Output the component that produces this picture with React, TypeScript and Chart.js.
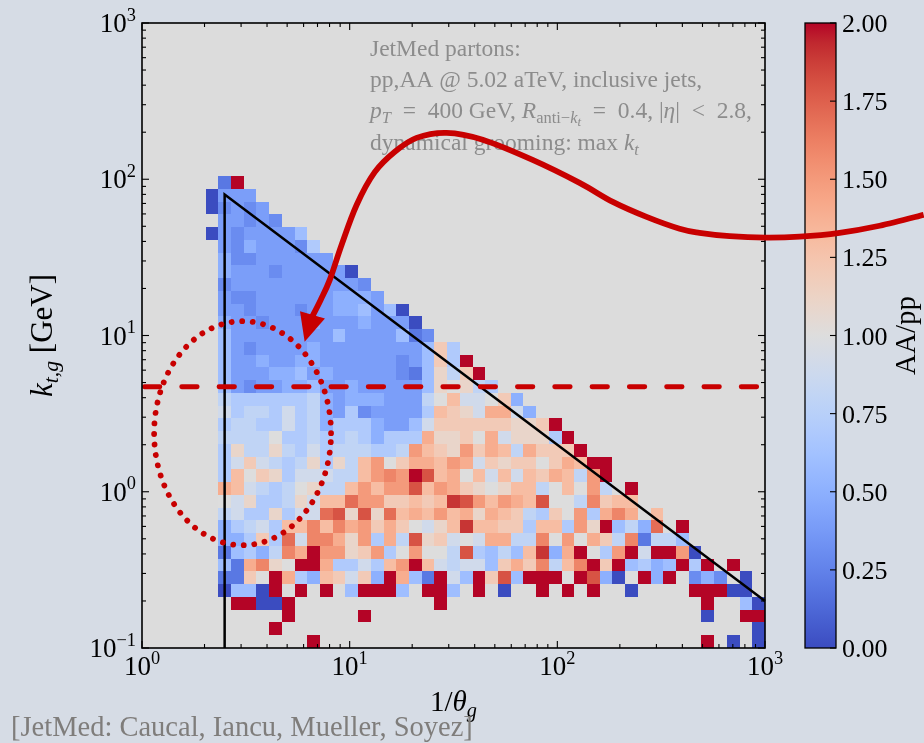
import React, { useEffect, useRef } from "react";
import { Chart, registerables } from "chart.js";

Chart.register(...registerables);

// ---------------- data ----------------
const X_RANGE = [1, 1000];
const Y_RANGE = [0.1, 1000];
const N_X_BINS = 49;
const N_Y_BINS = 49;
const FIRST_COL = 5;
const TOP_ROW = 36;
// AA/pp ratio codes: a = 0.0, b = 0.1, ... k = 1.0, ... u = 2.0 ; "." = empty bin
const RATIO_CODES = "abcdefghijklmnopqrstu";

// one string per kt row (top row first), one character per 1/theta column starting at FIRST_COL
const RATIO_ROWS = [
  ".cu",
  "aeee",
  "adede",
  ".eeded",
  "aedeeeeg",
  ".edfeeedh",
  ".fddeeeeee",
  ".feeedeeeeea",
  ".deeeeeeeeeed",
  ".eddeeeeeefffe",
  ".eedeeedeeffgega",
  ".feedeeefeeefeeea",
  ".geeeeeeeegeeeegcd",
  ".gedeeeef" + "eeeeeeee" + "gmh",
  ".geefeeff" + "eeeeee" + "de" + "gmhu",
  ".geeeffgef" + "eeeee" + "dc" + "glimu",
  ".gedeeffg" + "eef" + "eeeee" + "glklih",
  ".ihhhhhhifefffeeeiknjjkmf",
  ".jhiihjhifehd" + "eeee" + "hnmljoojf",
  ".hiihhjhif" + "hhhf" + "eeg" + "j" + "mmmmmm" + "llmu",
  ".iiiik" + "hhih" + "hih" + "f" + "hhh" + "ollmkojlllhu",
  ".hliili" + "hjh" + "iii" + "hh" + "i" + "pnmlpmon" + "iommmu",
  ".hjmjih" + "ilhlin" + "pkmoonpo" + "jmlmmkmon" + "uu",
  ".hnkmlh" + "jjjiin" + "pqpusnok" + "njnjnmoni" + "pu",
  ".onjihi" + "kliinp" + "nppsnpom" + "lklnnikn" + "kpi.u",
  ".kjlhhi" + "ljnnrp" + "pmmnmnts" + "pnponskk" + "iqmnn",
  ".ijhhlh" + "jjrsls" + "lrnonpno" + "lonmihmk" + "phoqo.n",
  ".fhijhn" + "nqnqop" + "momkjlnt" + "nnmmhnnh" + "plugifr.u",
  ".ffhmhr" + "jqqolp" + "hoislmjk" + "jooiiqkp" + "komiqciig",
  ".cghfiq" + "oupplm" + "phkpkkis" + "hgigntfo" + "ukhpujuupa",
  ".gcoqlk" + "uuohhj" + "hnpunjij" + "jgmomqin" + "qumughfguhu.u",
  ".ccmkuo" + "hfnmjm" + "fuogcujg" + "umsguuuk" + "usfakufu.dfd.a",
  ".aggau." + "u.u.gu" + "uug.uug." + "u.a..u.u" + ".u..a....uuuaa",
  "..uuaau" + "..........." + "u" + "...................." + "u..ga",
  "......u" + "....." + "u" + ".........." + ".........." + "......" + "a..uu",
  "....." + "u" + ".........." + ".........." + ".........." + "......." + "a",
  "........" + "u" + ".........." + ".........." + ".........." + "u.a.a",
];

const X_TICK_VALUES = [1, 10, 100, 1000];
const X_TICK_EXPONENTS = ["0", "1", "2", "3"];
const Y_TICK_VALUES = [0.1, 1, 10, 100, 1000];
const Y_TICK_EXPONENTS = ["\u22121", "0", "1", "2", "3"];
const CBAR_RANGE = [0, 2];
const CBAR_TICK_VALUES = [0, 0.25, 0.5, 0.75, 1, 1.25, 1.5, 1.75, 2];
const CBAR_TICK_LABELS = ["0.00", "0.25", "0.50", "0.75", "1.00", "1.25", "1.50", "1.75", "2.00"];

// jet boundary
const CUT_X = [2.5, 2.5, 1000];
const CUT_Y = [0.1, 80, 0.2];
const KT_CUT = 4.7;
// dotted region: centre (1/theta, kt) and half-axes in decades
const REGION_CENTER = [3.05, 2.37];
const REGION_HALF_DECADES = [0.426, 0.717];
// curved arrow path (1/theta, kt), continues outside the frame
const ARROW_X = [5808, 3565, 2286, 1469, 1007, 676, 484, 388, 269, 185, 128, 76.0, 43.7, 29.3, 21.0, 16.5, 13.2, 10.8, 9.14, 8.02, 7.25, 6.56];
const ARROW_Y = [59.2, 50.4, 45.4, 42.9, 42.3, 43.2, 45.4, 48.2, 57.4, 71.6, 94.8, 133, 179, 198, 184, 150, 111, 68.5, 38.0, 22.7, 16.9, 13.0];
const ARROW_TIP = [6.07, 9.12];

// ---------------- style ----------------
const FONT = '"Liberation Serif", "Times New Roman", serif';
const FIG_BG = "rgb(214,220,229)";
const AX_BG = "#dcdcdc";
const RED = "#c80000";
const ANNOT_GRAY = "#8c8c8c";
const FOOT_GRAY = "#7f7d7b";

const CW: number[][] = [
  [59, 76, 192], [68, 90, 204], [77, 104, 215], [87, 117, 225], [98, 130, 234], [108, 142, 241],
  [119, 154, 247], [130, 165, 251], [141, 176, 254], [152, 185, 255], [163, 194, 255], [174, 201, 253],
  [184, 208, 249], [194, 213, 244], [204, 217, 238], [213, 219, 230], [221, 221, 221], [229, 216, 209],
  [236, 211, 197], [241, 204, 185], [245, 196, 173], [247, 187, 160], [247, 177, 148], [247, 166, 135],
  [244, 154, 123], [241, 141, 111], [236, 127, 99], [229, 112, 88], [222, 96, 77], [213, 80, 66],
  [203, 62, 56], [192, 40, 47], [180, 4, 38],
];

function coolwarm(t: number): string {
  const tt = Math.max(0, Math.min(1, t));
  const n = CW.length - 1;
  const f = tt * n;
  const i = Math.min(n - 1, Math.floor(f));
  const u = f - i;
  const a = CW[i], b = CW[i + 1];
  const c = [0, 1, 2].map((k) => Math.round(a[k] + (b[k] - a[k]) * u));
  return `rgb(${c[0]},${c[1]},${c[2]})`;
}

type Seg = { t: string; it?: boolean; lv?: number };
const sizeOf = (lv?: number) => (lv === 1 ? 0.7 : lv === 2 ? 0.55 : lv === -1 ? 0.68 : 1);
const shiftOf = (lv?: number) => (lv === 1 ? 0.2 : lv === 2 ? 0.34 : lv === -1 ? -0.42 : 0);
const fontOf = (s: Seg, size: number) => `${s.it ? "italic " : ""}${(size * sizeOf(s.lv)).toFixed(2)}px ${FONT}`;

function richWidth(ctx: CanvasRenderingContext2D, segs: Seg[], size: number) {
  let w = 0;
  for (const s of segs) {
    ctx.font = fontOf(s, size);
    w += ctx.measureText(s.t).width;
  }
  return w;
}

function drawRich(ctx: CanvasRenderingContext2D, segs: Seg[], x: number, y: number, size: number, align: string, color: string) {
  const w = richWidth(ctx, segs, size);
  let cx = align === "left" ? x : align === "center" ? x - w / 2 : x - w;
  ctx.fillStyle = color;
  ctx.textAlign = "left";
  ctx.textBaseline = "alphabetic";
  for (const s of segs) {
    ctx.font = fontOf(s, size);
    ctx.fillText(s.t, cx, y + shiftOf(s.lv) * size);
    cx += ctx.measureText(s.t).width;
  }
}

const SP = "\u2002";
const ANNOT_LINES: Seg[][] = [
  [{ t: "JetMed partons:" }],
  [{ t: "pp,AA @ 5.02 aTeV, inclusive jets," }],
  [
    { t: "p", it: true }, { t: "T", it: true, lv: 1 }, { t: SP + "=" + SP + "400 GeV, " },
    { t: "R", it: true }, { t: "anti\u2212", lv: 1 }, { t: "k", it: true, lv: 1 }, { t: "t", it: true, lv: 2 },
    { t: SP + "=" + SP + "0.4, |" }, { t: "\u03b7", it: true }, { t: "|" + SP + "<" + SP + "2.8," },
  ],
  [{ t: "dynamical grooming: max " }, { t: "k", it: true }, { t: "t", it: true, lv: 1 }],
];
const Y_LABEL: Seg[] = [{ t: "k", it: true }, { t: "t,g", it: true, lv: 1 }, { t: " [GeV]" }];
const X_LABEL: Seg[] = [{ t: "1/" }, { t: "\u03b8", it: true }, { t: "g", it: true, lv: 1 }];
const CBAR_LABEL: Seg[] = [{ t: "AA/pp" }];
const FOOTER = "[JetMed: Caucal, Iancu, Mueller, Soyez]";

const binEdgeX = (i: number) => X_RANGE[0] * Math.pow(X_RANGE[1] / X_RANGE[0], i / N_X_BINS);
const binEdgeY = (j: number) => Y_RANGE[0] * Math.pow(Y_RANGE[1] / Y_RANGE[0], j / N_Y_BINS);

function line(ctx: CanvasRenderingContext2D, x0: number, y0: number, x1: number, y1: number) {
  ctx.beginPath();
  ctx.moveTo(x0, y0);
  ctx.lineTo(x1, y1);
  ctx.stroke();
}

const drawPlugin = {
  id: "jetmedDraw",
  beforeDraw(chart: any) {
    const ctx: CanvasRenderingContext2D = chart.ctx;
    const a = chart.chartArea;
    ctx.save();
    ctx.fillStyle = FIG_BG;
    ctx.fillRect(0, 0, chart.width, chart.height);
    ctx.fillStyle = AX_BG;
    ctx.fillRect(a.left, a.top, a.right - a.left, a.bottom - a.top);
    ctx.restore();
  },
  afterDraw(chart: any) {
    const ctx: CanvasRenderingContext2D = chart.ctx;
    const xs = chart.scales.x, ys = chart.scales.y;
    const { left, right, top, bottom } = chart.chartArea;
    const X = (v: number) => xs.getPixelForValue(v);
    const Y = (v: number) => ys.getPixelForValue(v);
    ctx.save();

    // heat map cells
    RATIO_ROWS.forEach((row, k) => {
      const j = TOP_ROW - k;
      const yb = Math.round(Y(binEdgeY(j)));
      const yt = Math.round(Y(binEdgeY(j + 1)));
      for (let c = 0; c < row.length; c++) {
        const ch = row[c];
        if (ch === ".") continue;
        const v = RATIO_CODES.indexOf(ch) * 0.1;
        const i = FIRST_COL + c;
        const xl = Math.round(X(binEdgeX(i)));
        const xr = Math.round(X(binEdgeX(i + 1)));
        ctx.fillStyle = coolwarm((v - CBAR_RANGE[0]) / (CBAR_RANGE[1] - CBAR_RANGE[0]));
        ctx.fillRect(xl, yt, xr - xl, yb - yt);
      }
    });

    // black boundary lines
    ctx.strokeStyle = "#000";
    ctx.lineWidth = 2.5;
    ctx.lineJoin = "miter";
    ctx.beginPath();
    CUT_X.forEach((xv, n) => (n === 0 ? ctx.moveTo(X(xv), Y(CUT_Y[n])) : ctx.lineTo(X(xv), Y(CUT_Y[n]))));
    ctx.stroke();

    // dashed horizontal kt cut
    ctx.strokeStyle = RED;
    ctx.lineWidth = 4.8;
    ctx.lineCap = "round";
    ctx.setLineDash([15.5, 21.8]);
    ctx.lineDashOffset = -2.4;
    line(ctx, X(X_RANGE[0]), Y(KT_CUT), X(X_RANGE[1]), Y(KT_CUT));

    // dotted region
    ctx.setLineDash([0.01, 10.55]);
    ctx.lineDashOffset = 0;
    ctx.lineWidth = 5.8;
    ctx.beginPath();
    const lcx = Math.log10(REGION_CENTER[0]), lcy = Math.log10(REGION_CENTER[1]);
    for (let n = 0; n <= 360; n++) {
      const th = (n / 360) * 2 * Math.PI;
      const px = X(Math.pow(10, lcx + REGION_HALF_DECADES[0] * Math.cos(th)));
      const py = Y(Math.pow(10, lcy + REGION_HALF_DECADES[1] * Math.sin(th)));
      if (n === 0) ctx.moveTo(px, py); else ctx.lineTo(px, py);
    }
    ctx.stroke();
    ctx.setLineDash([]);
    ctx.lineCap = "butt";

    // spines and ticks
    ctx.strokeStyle = "#000";
    ctx.lineWidth = 1.6;
    ctx.strokeRect(left, top, right - left, bottom - top);
    ctx.lineWidth = 1.1;
    for (let d = 0; d < X_TICK_VALUES.length; d++) {
      const v = X_TICK_VALUES[d];
      const px = X(v);
      line(ctx, px, bottom, px, bottom - 7);
      line(ctx, px, top, px, top + 7);
      if (d < X_TICK_VALUES.length - 1) {
        for (let m = 2; m <= 9; m++) {
          const qx = X(v * m);
          line(ctx, qx, bottom, qx, bottom - 4);
          line(ctx, qx, top, qx, top + 4);
        }
      }
    }
    for (let d = 0; d < Y_TICK_VALUES.length; d++) {
      const v = Y_TICK_VALUES[d];
      const py = Y(v);
      line(ctx, left, py, left + 7, py);
      line(ctx, right, py, right - 7, py);
      if (d < Y_TICK_VALUES.length - 1) {
        for (let m = 2; m <= 9; m++) {
          const qy = Y(v * m);
          line(ctx, left, qy, left + 4, qy);
          line(ctx, right, qy, right - 4, qy);
        }
      }
    }

    // tick labels
    const TS = 27;
    X_TICK_VALUES.forEach((v, n) => {
      drawRich(ctx, [{ t: "10" }, { t: X_TICK_EXPONENTS[n], lv: -1 }], X(v), bottom + 27, TS, "center", "#000");
    });
    Y_TICK_VALUES.forEach((v, n) => {
      drawRich(ctx, [{ t: "10" }, { t: Y_TICK_EXPONENTS[n], lv: -1 }], left - 6, Y(v) + 9, TS, "right", "#000");
    });

    // axis labels
    drawRich(ctx, X_LABEL, (left + right) / 2, bottom + 63, 29, "center", "#000");
    ctx.save();
    ctx.translate(52, (top + bottom) / 2);
    ctx.rotate(-Math.PI / 2);
    drawRich(ctx, Y_LABEL, 0, 0, 31, "center", "#000");
    ctx.restore();

    // annotation text
    const ax = left + 228;
    const baselines = [56, 87, 118, 150];
    ANNOT_LINES.forEach((segs, n) => drawRich(ctx, segs, ax, baselines[n], 23.5, "left", ANNOT_GRAY));

    // footer
    drawRich(ctx, [{ t: FOOTER }], 11, 736, 28.5, "left", FOOT_GRAY);

    // colour bar
    const cbL = right + 40, cbR = right + 71;
    const cbT = top, cbB = bottom;
    const g = ctx.createLinearGradient(0, cbB, 0, cbT);
    CW.forEach((c, n) => g.addColorStop(n / (CW.length - 1), `rgb(${c[0]},${c[1]},${c[2]})`));
    ctx.fillStyle = g;
    ctx.fillRect(cbL, cbT, cbR - cbL, cbB - cbT);
    ctx.strokeStyle = "#000";
    ctx.lineWidth = 1.3;
    ctx.strokeRect(cbL, cbT, cbR - cbL, cbB - cbT);
    ctx.lineWidth = 1.1;
    CBAR_TICK_VALUES.forEach((v, n) => {
      const py = cbB - ((v - CBAR_RANGE[0]) / (CBAR_RANGE[1] - CBAR_RANGE[0])) * (cbB - cbT);
      line(ctx, cbR, py, cbR - 6, py);
      drawRich(ctx, [{ t: CBAR_TICK_LABELS[n] }], cbR + 6, py + 9, 26, "left", "#000");
    });
    ctx.save();
    ctx.translate(cbR + 79, (cbT + cbB) / 2);
    ctx.rotate(-Math.PI / 2);
    drawRich(ctx, CBAR_LABEL, 0, 0, 29, "center", "#000");
    ctx.restore();

    // curved arrow
    const pts = ARROW_X.map((xv, n) => [X(xv), Y(ARROW_Y[n])]);
    ctx.strokeStyle = RED;
    ctx.lineWidth = 5.8;
    ctx.lineCap = "butt";
    ctx.lineJoin = "round";
    ctx.beginPath();
    ctx.moveTo(pts[0][0], pts[0][1]);
    for (let n = 0; n < pts.length - 1; n++) {
      const p0 = pts[Math.max(0, n - 1)], p1 = pts[n], p2 = pts[n + 1], p3 = pts[Math.min(pts.length - 1, n + 2)];
      ctx.bezierCurveTo(
        p1[0] + (p2[0] - p0[0]) / 6, p1[1] + (p2[1] - p0[1]) / 6,
        p2[0] - (p3[0] - p1[0]) / 6, p2[1] - (p3[1] - p1[1]) / 6,
        p2[0], p2[1]
      );
    }
    ctx.stroke();
    const base = pts[pts.length - 1];
    const tip = [X(ARROW_TIP[0]), Y(ARROW_TIP[1])];
    const dx = tip[0] - base[0], dy = tip[1] - base[1];
    const len = Math.hypot(dx, dy);
    const nx = -dy / len, ny = dx / len;
    const hw = 13;
    ctx.fillStyle = RED;
    ctx.beginPath();
    ctx.moveTo(tip[0], tip[1]);
    ctx.lineTo(base[0] + nx * hw - (dx / len) * 3, base[1] + ny * hw - (dy / len) * 3);
    ctx.lineTo(base[0] - nx * hw - (dx / len) * 3, base[1] - ny * hw - (dy / len) * 3);
    ctx.closePath();
    ctx.fill();

    ctx.restore();
  },
};

export default function App() {
  const ref = useRef<HTMLCanvasElement>(null);
  useEffect(() => {
    document.body.style.margin = "0";
    document.body.style.background = FIG_BG;
    const chart = new Chart(ref.current as HTMLCanvasElement, {
      type: "scatter",
      data: { datasets: [{ data: [] }] },
      options: {
        responsive: false,
        animation: false,
        devicePixelRatio: 1,
        layout: { padding: { left: 142, top: 23, right: 159, bottom: 95 } },
        plugins: { legend: { display: false }, tooltip: { enabled: false } },
        scales: {
          x: { type: "logarithmic", min: X_RANGE[0], max: X_RANGE[1], display: false },
          y: { type: "logarithmic", min: Y_RANGE[0], max: Y_RANGE[1], display: false },
        },
      } as any,
      plugins: [drawPlugin as any],
    });
    return () => chart.destroy();
  }, []);
  return <canvas ref={ref} width={924} height={743} style={{ display: "block" }} />;
}
